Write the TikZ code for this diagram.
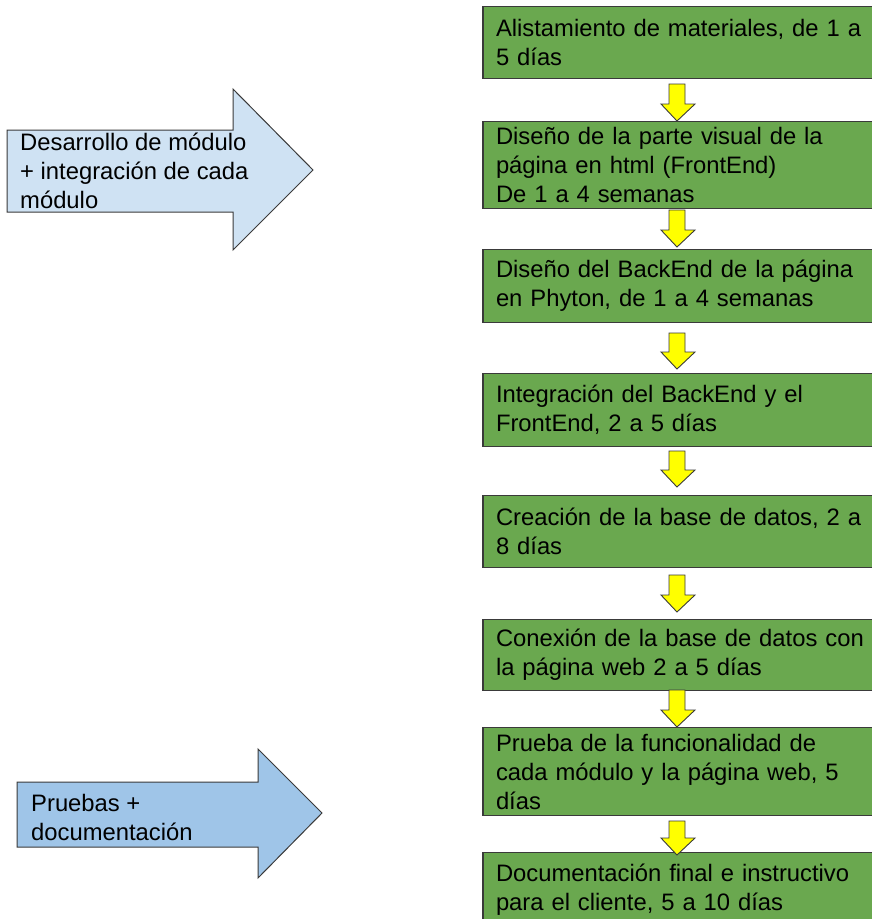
\documentclass[tikz,border=0pt]{standalone}
\usepackage{fontspec}
\setmainfont{Liberation Sans}
\definecolor{boxgreen}{HTML}{6AA84F}
\definecolor{lightblue}{HTML}{CFE2F3}
\definecolor{midblue}{HTML}{9FC5E8}
\definecolor{arrowyellow}{HTML}{FFFF00}
\definecolor{edgegray}{HTML}{3A3A3A}
\begin{document}
\begin{tikzpicture}[x=1pt,y=-1pt,
  font=\fontsize{23.8}{29}\selectfont,
  gbox/.style={draw=edgegray, line width=1.1pt, fill=boxgreen, rectangle,
    minimum width=407pt, text width=381pt, inner xsep=13pt, inner ysep=0pt, align=left},
  yarrow/.style={draw=edgegray, line width=0.9pt, fill=arrowyellow, line join=miter},
  barrow/.style={draw=edgegray, line width=1pt, line join=miter},
  lbl/.style={anchor=west, inner sep=0pt, align=left}]
\useasboundingbox (0,0) rectangle (872,919);
\clip (0,0) rectangle (872,919);

% left block arrows
\draw[barrow, fill=lightblue] (7,130) -- (233,130) -- (233,89) -- (313,170) -- (233,250) -- (233,212) -- (7,212) -- cycle;
\node[lbl] (ta) at (20,171) {Desarrollo de módulo\\+ integración de cada\\módulo};
\draw[barrow, fill=midblue] (17,782) -- (258,782) -- (258,749) -- (322,813) -- (258,878) -- (258,847) -- (17,847) -- cycle;
\node[lbl] (tb) at (31,817) {Pruebas +\\documentación};

% green boxes
\node[gbox, minimum height=72pt] (b1) at (686.5,42.5) {Alistamiento de materiales, de 1 a\\5 días};
\node[gbox, minimum height=87pt] (b2) at (686.5,165) {Diseño de la parte visual de la\\página en html (FrontEnd)\\De 1 a 4 semanas};
\node[gbox, minimum height=73pt] (b3) at (686.5,286) {Diseño del BackEnd de la página\\en Phyton, de 1 a 4 semanas};
\node[gbox, minimum height=73pt] (b4) at (686.5,410) {Integración del BackEnd y el\\FrontEnd, 2 a 5 días};
\node[gbox, minimum height=72pt] (b5) at (686.5,531.5) {Creación de la base de datos, 2 a\\8 días};
\node[gbox, minimum height=71pt] (b6) at (686.5,655) {Conexión de la base de datos con\\la página web 2 a 5 días};
\node[gbox, minimum height=88pt] (b7) at (686.5,771.5) {Prueba de la funcionalidad de\\cada módulo y la página web, 5\\días};
\node[gbox, minimum height=75pt] (b8) at (686.5,890) {Documentación final e instructivo\\para el cliente, 5 a 10 días};

% yellow block arrows between boxes
\foreach \t/\p in {84/121, 210/247, 333/369, 451/487, 575/612, 690/727, 821/855}{
  \pgfmathsetmacro{\h}{\p-17}
  \draw[yarrow] (669,\t) -- (685,\t) -- (685,\h) -- (695,\h) -- (677,\p) -- (661,\h) -- (669,\h) -- cycle;
}
\end{tikzpicture}
\end{document}
